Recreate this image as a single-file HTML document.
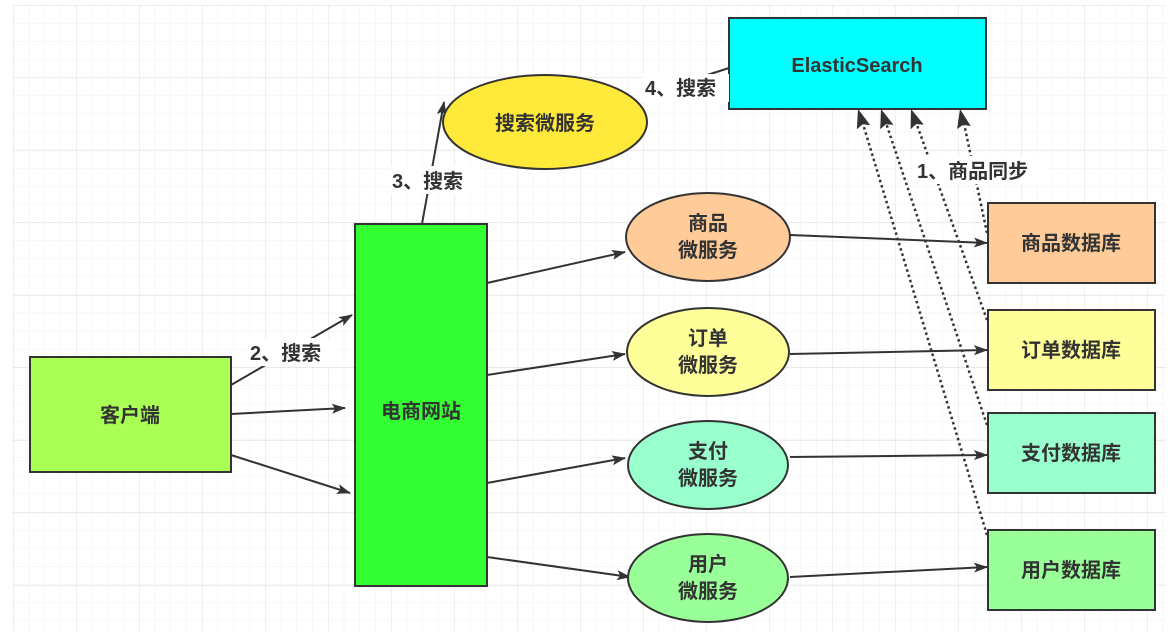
<!DOCTYPE html>
<html><head><meta charset="utf-8"><style>
body{margin:0;background:#fff;width:1173px;height:636px;overflow:hidden}
text{font-family:"Liberation Sans","Noto Sans CJK SC",sans-serif;font-weight:bold;fill:#333}
</style></head><body>
<svg width="1173" height="636" xmlns="http://www.w3.org/2000/svg">
<defs>
<pattern id="gm" x="13" y="5" width="15.75" height="18.1" patternUnits="userSpaceOnUse"><path d="M0 0H15.75M0 0V18.1" stroke="#efefef" stroke-width="1" fill="none"/></pattern>
<pattern id="gM" x="13" y="5" width="63" height="72.5" patternUnits="userSpaceOnUse"><path d="M0 0H63M0 0V72.5" stroke="#e2e2e2" stroke-width="1.2" fill="none"/></pattern>
<marker id="a" markerWidth="14" markerHeight="12" refX="13" refY="6" orient="auto" markerUnits="userSpaceOnUse"><path d="M0 1L14 6L0 11L3 6Z" fill="#333"/></marker>
</defs>
<rect x="13" y="5" width="1153" height="628" fill="url(#gm)"/>
<rect x="13" y="5" width="1153" height="628" fill="url(#gM)"/>
<g stroke="#333" stroke-width="2" fill="none">
<line x1="729" y1="68" x2="645" y2="95"/>
<line x1="422" y1="224" x2="444" y2="102" marker-end="url(#a)"/>
<line x1="231" y1="385" x2="352" y2="315" marker-end="url(#a)"/>
<line x1="231" y1="414" x2="345" y2="408" marker-end="url(#a)"/>
<line x1="231" y1="455" x2="350" y2="493" marker-end="url(#a)"/>
<line x1="487" y1="283" x2="625" y2="252" marker-end="url(#a)"/>
<line x1="487" y1="375" x2="625" y2="354" marker-end="url(#a)"/>
<line x1="487" y1="483" x2="625" y2="458" marker-end="url(#a)"/>
<line x1="487" y1="557" x2="630" y2="577" marker-end="url(#a)"/>
<line x1="790" y1="235" x2="987" y2="243" marker-end="url(#a)"/>
<line x1="790" y1="354" x2="987" y2="350" marker-end="url(#a)"/>
<line x1="790" y1="457" x2="987" y2="455" marker-end="url(#a)"/>
<line x1="790" y1="577" x2="987" y2="567" marker-end="url(#a)"/>
</g>
<g stroke="#333" stroke-width="2.5" stroke-dasharray="2.5 3" fill="none">
<line x1="987" y1="233" x2="962" y2="114"/>
<line x1="987" y1="320" x2="913" y2="114"/>
<line x1="987" y1="425" x2="883" y2="114"/>
<line x1="987" y1="535" x2="860" y2="114"/>
</g>
<g fill="#333">
<path d="M960 109l7 19l-7-3l-7 3z" transform="rotate(-12 960 109)"/>
<path d="M911 109l7 19l-7-3l-7 3z" transform="rotate(-19 911 109)"/>
<path d="M881 109l7 19l-7-3l-7 3z" transform="rotate(-18 881 109)"/>
<path d="M858 109l7 19l-7-3l-7 3z" transform="rotate(-17 858 109)"/>
</g>
<g stroke="#333" stroke-width="2">
<rect x="729" y="18" width="257" height="91" fill="#00ffff"/>
<ellipse cx="545" cy="122" rx="102" ry="47" fill="#ffe93b"/>
<rect x="355" y="224" width="132" height="362" fill="#33ff33"/>
<rect x="30" y="357" width="201" height="115" fill="#aaff55"/>
<ellipse cx="708" cy="237" rx="82" ry="44" fill="#ffcc99"/>
<ellipse cx="708" cy="352" rx="81" ry="44" fill="#ffff99"/>
<ellipse cx="708" cy="465" rx="80" ry="44" fill="#99ffcc"/>
<ellipse cx="708" cy="578" rx="80" ry="44" fill="#99ff99"/>
<rect x="988" y="203" width="167" height="80" fill="#ffcc99"/>
<rect x="988" y="310" width="167" height="80" fill="#ffff99"/>
<rect x="988" y="413" width="167" height="80" fill="#99ffcc"/>
<rect x="988" y="530" width="167" height="80" fill="#99ff99"/>
</g>
<g fill="#fff">
<rect x="643" y="74" width="86" height="28"/>
<rect x="390" y="166" width="88" height="28"/>
<rect x="248" y="338" width="88" height="28"/>
<rect x="915" y="156" width="132" height="28"/>
</g>
<g font-size="20">
<text x="857" y="72" text-anchor="middle">ElasticSearch</text>
<text x="545" y="130" text-anchor="middle">搜索微服务</text>
<text x="421" y="418" text-anchor="middle">电商网站</text>
<text x="130" y="422" text-anchor="middle">客户端</text>
<text x="708" y="230" text-anchor="middle">商品</text><text x="708" y="257" text-anchor="middle">微服务</text>
<text x="708" y="345" text-anchor="middle">订单</text><text x="708" y="372" text-anchor="middle">微服务</text>
<text x="708" y="458" text-anchor="middle">支付</text><text x="708" y="485" text-anchor="middle">微服务</text>
<text x="708" y="571" text-anchor="middle">用户</text><text x="708" y="598" text-anchor="middle">微服务</text>
<text x="1071" y="250" text-anchor="middle">商品数据库</text>
<text x="1071" y="357" text-anchor="middle">订单数据库</text>
<text x="1071" y="460" text-anchor="middle">支付数据库</text>
<text x="1071" y="577" text-anchor="middle">用户数据库</text>
<text x="645" y="95">4、搜索</text>
<text x="392" y="188">3、搜索</text>
<text x="250" y="360">2、搜索</text>
<text x="917" y="178">1、商品同步</text>
</g>
</svg>
</body></html>
